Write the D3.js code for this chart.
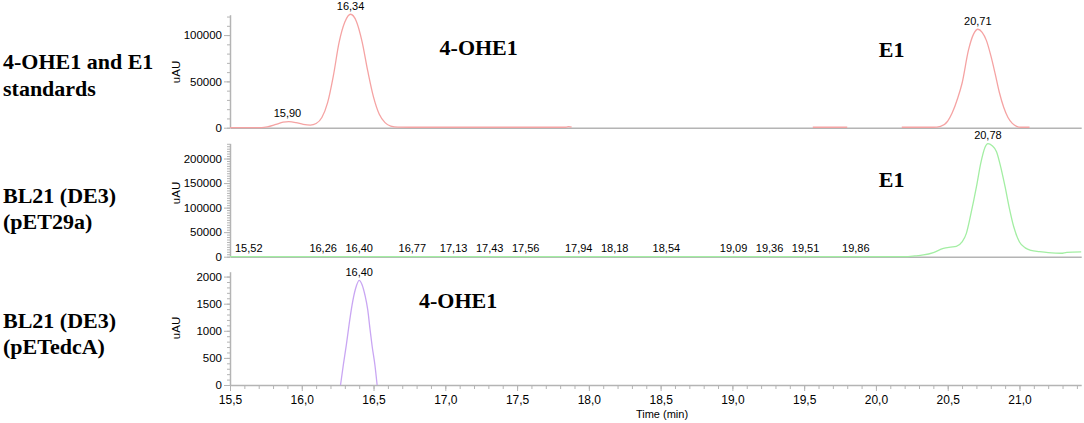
<!DOCTYPE html>
<html>
<head>
<meta charset="utf-8">
<script src="https://cdn.jsdelivr.net/npm/d3@7"></script>
<style>
  body { margin: 0; background: #fff; }
  svg { display: block; }
  .serif { font-family: "Liberation Serif", "Times New Roman", serif; font-weight: bold; font-size: 22px; }
  .sans { font-family: "Liberation Sans", Arial, sans-serif; }
</style>
</head>
<body>
<div id="chart"></div>
<script>
// chromatogram traces: [time (min), signal (uAU)], null = no trace drawn
const standardsTrace = [
  [15.50, 0], [15.72, 0], [15.76, 800], [15.82, 3500], [15.87, 6000], [15.91, 6500],
  [15.96, 5500], [16.01, 3600], [16.06, 2800], [16.10, 4500], [16.14, 11000],
  [16.18, 27000], [16.22, 56000], [16.26, 92000], [16.30, 114000], [16.34, 122500],
  [16.38, 115000], [16.42, 93000], [16.46, 61000], [16.50, 33000], [16.54, 14500],
  [16.58, 5500], [16.62, 1800], [16.67, 600], [16.75, 500], [17.84, 500], [17.86, 1200],
  [17.88, 500], [17.89, null], [19.55, null], [19.56, 500], [19.80, 500], [19.81, null],
  [20.17, null], [20.18, 500], [20.40, 500], [20.45, 1500], [20.50, 7000], [20.53, 15500],
  [20.57, 32000], [20.60, 48000], [20.645, 84000], [20.68, 101000], [20.71, 106300],
  [20.74, 103000], [20.77, 94000], [20.80, 78000], [20.83, 58700], [20.86, 38000],
  [20.89, 22000], [20.92, 11000], [20.95, 4700], [20.98, 1500], [21.01, 500], [21.07, 500]
];
const pET29aTrace = [
  [15.50, 0], [20.20, 0], [20.27, 1500], [20.33, 3500], [20.40, 8500], [20.47, 17000],
  [20.52, 19500], [20.56, 21000], [20.60, 30000], [20.63, 47500], [20.66, 85000],
  [20.70, 142000], [20.73, 190000], [20.76, 223000], [20.78, 230500], [20.81, 226000],
  [20.84, 214000], [20.87, 182000], [20.90, 142000], [20.93, 98000], [20.96, 61000],
  [21.00, 30000], [21.04, 18000], [21.08, 13000], [21.14, 10500], [21.20, 8500],
  [21.29, 7000], [21.33, 9000], [21.43, 10000]
];
const pETedcATrace = [
  [16.27, 0], [16.29, 380], [16.31, 730], [16.33, 1120], [16.35, 1470], [16.375, 1780],
  [16.40, 1930], [16.42, 1850], [16.44, 1660], [16.46, 1380], [16.475, 1040],
  [16.49, 720], [16.51, 360], [16.525, 0]
];

// retention times written over the peaks
const standardsPeaks = [15.90, 16.34, 20.71];
const pET29aPeaks = [15.52, 16.26, 16.40, 16.77, 17.13, 17.43, 17.56, 17.94, 18.18,
                     18.54, 19.09, 19.36, 19.51, 19.86, 20.78];
const pETedcAPeaks = [16.40];

// y axes
const standardsMax = 122000, pET29aMax = 231000, pETedcAMax = 2090;
const standardsTicks = [0, 50000, 100000];
const pET29aTicks = [0, 50000, 100000, 150000, 200000];
const pETedcATicks = [0, 500, 1000, 1500, 2000];
const minorSteps = [10000, 5000, 100];

// x axis
const timeDomain = [15.5, 21.43];
const timeTicks = [15.5, 16.0, 16.5, 17.0, 17.5, 18.0, 18.5, 19.0, 19.5, 20.0, 20.5, 21.0];

// texts
const sampleNames = [["4-OHE1 and E1", "standards"], ["BL21 (DE3)", "(pET29a)"], ["BL21 (DE3)", "(pETedcA)"]];
const compoundNotes = [
  [{ text: "4-OHE1", t: 16.96, v: 78500 }, { text: "E1", t: 20.02, v: 76300 }],
  [{ text: "E1", t: 20.02, v: 142600 }],
  [{ text: "4-OHE1", t: 16.817, v: 1420 }]
];

const W = 1084, H = 423;
const svg = d3.select("#chart").append("svg").attr("width", W).attr("height", H);

const x = d3.scaleLinear().domain(timeDomain).range([230, 1081.2]);
const comma = f => (d => f(d).replace(".", ","));
const gray = "#b4b4b4";

const panels = [
  { trace: standardsTrace, peaks: standardsPeaks, max: standardsMax, ticks: standardsTicks,
    top: 14.7, bottom: 127.7, color: "#f5a3a3", nameY: 69, uauY: 72 },
  { trace: pET29aTrace, peaks: pET29aPeaks, max: pET29aMax, ticks: pET29aTicks,
    top: 143.3, bottom: 256.7, color: "#a3eea3", nameY: 202.7, uauY: 193 },
  { trace: pETedcATrace, peaks: pETedcAPeaks, max: pETedcAMax, ticks: pETedcATicks,
    top: 271.7, bottom: 385, color: "#c9a6f3", nameY: 327.7, uauY: 328 }
];

function valueAt(trace, t) {
  for (let i = 0; i < trace.length - 1; i++) {
    const a = trace[i], b = trace[i + 1];
    if (t >= a[0] && t <= b[0]) {
      const va = a[1] == null ? 0 : a[1], vb = b[1] == null ? 0 : b[1];
      return va + (vb - va) * (t - a[0]) / (b[0] - a[0]);
    }
  }
  return 0;
}

panels.forEach((p, i) => {
  const y = d3.scaleLinear().domain([0, p.max]).range([p.bottom, p.top]);
  const g = svg.append("g");

  // minor y ticks
  g.append("g")
    .attr("transform", "translate(230,0)")
    .call(d3.axisLeft(y).tickValues(d3.range(0, p.max, minorSteps[i])).tickSize(3).tickSizeOuter(0).tickFormat(""))
    .call(a => a.selectAll("line").attr("stroke", gray))
    .call(a => a.select(".domain").remove());

  // major y ticks
  g.append("g")
    .attr("transform", "translate(230,0)")
    .call(d3.axisLeft(y).tickValues(p.ticks).tickSize(6).tickSizeOuter(0).tickPadding(2).tickFormat(d3.format("d")))
    .call(a => a.select(".domain").attr("stroke", gray).attr("stroke-width", 1.5))
    .call(a => a.selectAll("line").attr("stroke", gray))
    .call(a => a.selectAll("text").attr("class", "sans").attr("font-family", null)
      .attr("font-size", 11.5).attr("fill", "#000"));

  // baseline / time axis
  const xa = g.append("g").attr("transform", `translate(0,${p.bottom})`);
  if (i === panels.length - 1) {
    xa.call(d3.axisBottom(x).tickValues(d3.range(15.5, 21.41, 0.1)).tickSize(4).tickSizeOuter(0).tickFormat(""))
      .call(a => a.select(".domain").remove())
      .call(a => a.selectAll("line").attr("stroke", gray));
    xa.append("g")
      .call(d3.axisBottom(x).tickValues(timeTicks).tickSize(6).tickSizeOuter(0).tickPadding(4)
        .tickFormat(comma(d3.format(".1f"))))
      .call(a => a.select(".domain").attr("stroke", gray).attr("stroke-width", 1.5))
      .call(a => a.selectAll("line").attr("stroke", gray))
      .call(a => a.selectAll("text").attr("class", "sans").attr("font-family", null)
        .attr("font-size", 12).attr("fill", "#000"));
  } else {
    xa.call(d3.axisBottom(x).tickValues([]).tickSizeOuter(0))
      .call(a => a.select(".domain").attr("stroke", gray).attr("stroke-width", 1.5));
  }

  // trace
  const line = d3.line()
    .defined(d => d[1] != null)
    .x(d => x(d[0]))
    .y(d => y(d[1]))
    .curve(d3.curveMonotoneX);
  g.append("path")
    .datum(p.trace)
    .attr("d", line)
    .attr("fill", "none")
    .attr("stroke", p.color)
    .attr("stroke-width", 1.3);

  // uAU label
  g.append("text")
    .attr("class", "sans")
    .attr("transform", `translate(180,${p.uauY}) rotate(-90)`)
    .attr("text-anchor", "middle")
    .attr("font-size", 11.5)
    .text("uAU");

  // peak labels, pushed left when they would collide
  const labels = p.peaks.map(t => ({ t, cx: x(t), cy: y(valueAt(p.trace, t)) - 4.5, text: comma(d3.format(".2f"))(t) }));
  const lt = g.selectAll("text.peak").data(labels).join("text")
    .attr("class", "peak sans")
    .attr("text-anchor", "middle")
    .attr("font-size", 11)
    .text(d => d.text);
  lt.each(function(d) { d.w = this.getComputedTextLength(); });
  for (let k = labels.length - 2; k >= 0; k--) {
    const a = labels[k], b = labels[k + 1];
    if (Math.abs(a.cy - b.cy) < 12) {
      const minGap = (a.w + b.w) / 2 + 8.5;
      if (b.cx - a.cx < minGap) a.cx = b.cx - minGap;
    }
  }
  labels.forEach(d => { if (d.cx - d.w / 2 < 235) d.cx = 235 + d.w / 2; });
  lt.attr("x", d => d.cx).attr("y", d => d.cy);

  // sample name on the left
  sampleNames[i].forEach((s, k) => {
    svg.append("text")
      .attr("class", "serif")
      .attr("x", 3)
      .attr("y", p.nameY + k * 26.5)
      .text(s);
  });

  // compound annotations
  compoundNotes[i].forEach(n => {
    g.append("text")
      .attr("class", "serif")
      .attr("x", x(n.t))
      .attr("y", y(n.v))
      .text(n.text);
  });
});

svg.append("text")
  .attr("class", "sans")
  .attr("x", 662)
  .attr("y", 418)
  .attr("text-anchor", "middle")
  .attr("font-size", 11)
  .text("Time (min)");
</script>
</body>
</html>
